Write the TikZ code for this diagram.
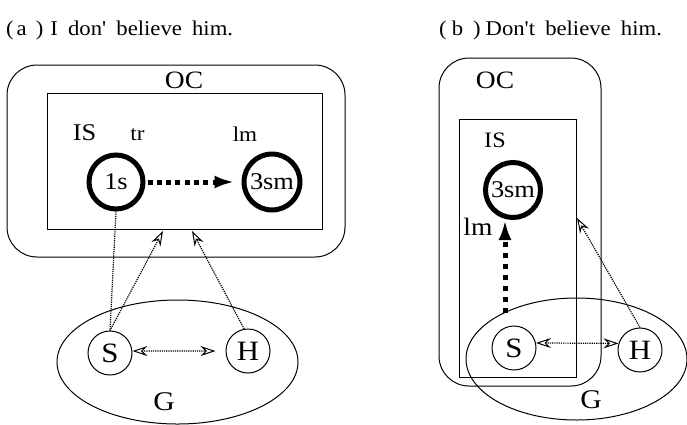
\documentclass[tikz,border=0pt]{standalone}
\usepackage{fontspec}
\newfontfamily\tf[FakeStretch=1.1]{Liberation Serif}
\newfontfamily\tfw[FakeStretch=1.08,WordSpace=1.8]{Liberation Serif}
\usetikzlibrary{arrows.meta,shapes.geometric,calc}
\begin{document}
\begin{tikzpicture}[x=1pt,y=-1pt,
  frame/.style={draw, line width=1pt, inner sep=0pt},
  bigc/.style={circle, draw, line width=5pt, inner sep=0pt, minimum size=55pt, font=\tf\fontsize{24}{24}\selectfont},
  smc/.style={circle, draw, line width=1pt, inner sep=0pt, minimum size=44pt, font=\tf\fontsize{28}{28}\selectfont},
  lab/.style={anchor=base, inner sep=0pt},
  ttl/.style={anchor=base west, inner sep=0pt, font=\tfw\fontsize{21}{21}\selectfont},
  dotline/.style={line width=1.2pt, dash pattern=on 1.2pt off 1pt},
  openhead/.style={-{Stealth[open,length=15pt,width=10pt,inset=5pt,line width=1pt]}},
  bothhead/.style={{Stealth[open,length=15pt,width=10pt,inset=5pt,line width=1pt]}-{Stealth[open,length=15pt,width=10pt,inset=5pt,line width=1pt]}},
  thickarrow/.style={line width=5pt, -{Latex[length=20pt,width=13pt]}}
]
\useasboundingbox (0,0) rectangle (687,424);

% ---------- titles
\node[ttl] (tta) at (6,35) {(\hspace{3pt}a\hspace{9pt})\hspace{7pt}I don' believe him.};
\node[ttl] (ttb) at (439,35) {(\hspace{5pt}b\hspace{10pt})\hspace{5pt}Don't believe him.};

% ---------- panel (a)
\node[frame, rounded corners=30pt, minimum width=338pt, minimum height=192pt] (OCa) at (176,161) {};
\node[frame, minimum width=275pt, minimum height=136pt] (ISa) at (184.5,161) {};
\node[lab, font=\tf\fontsize{25}{25}\selectfont] (ocla) at (184,88) {OC};
\node[lab, font=\tf\fontsize{24}{24}\selectfont] (isla) at (84.5,140) {IS};
\node[lab, font=\tf\fontsize{21}{21}\selectfont] (tra) at (137.5,140) {tr};
\node[lab, font=\tf\fontsize{21}{21}\selectfont] (lma) at (245,141) {lm};
\node[bigc, minimum size=54pt] (s1) at (116,182) {1s};
\node[bigc, minimum size=56pt] (sm3a) at (272,182) {3sm};
\draw[thickarrow, dash pattern=on 5pt off 4.3pt, shorten >=7pt, shorten <=2pt] (s1) -- (sm3a);

\node[draw, ellipse, line width=1pt, inner sep=0pt, minimum width=241pt, minimum height=124pt] (Ga) at (177.5,362) {};
\node[lab, font=\tf\fontsize{27}{27}\selectfont] (gla) at (164,410) {G};
\node[smc] (Sa) at (110,353) {S};
\node[smc] (Ha) at (248,351) {H};

\coordinate (ta1) at (163,231);
\coordinate (ta2) at (192,231);
\draw[dotline] (s1.south) -- (Sa.north);
\draw[dotline, openhead] (Sa.north) -- (ta1);
\draw[dotline, openhead] (Ha.100) -- (ta2);
\draw[dotline, bothhead, shorten >=10pt] (Sa.5) -- (Ha.west);

% ---------- panel (b)
\node[frame, rounded corners=30pt, minimum width=162pt, minimum height=328pt] (OCb) at (520,222) {};
\node[frame, minimum width=117pt, minimum height=258pt] (ISb) at (517.5,248) {};
\node[lab, font=\tf\fontsize{25}{25}\selectfont] (oclb) at (495,88) {OC};
\node[lab, font=\tf\fontsize{22}{22}\selectfont] (islb) at (495,147) {IS};
\node[bigc] (sm3b) at (513,190) {3sm};
\node[lab, font=\tf\fontsize{25}{25}\selectfont] (lmb) at (478,235) {lm};

\node[draw, ellipse, line width=1pt, inner sep=0pt, minimum width=221pt, minimum height=122pt] (Gb) at (576.5,359) {};
\node[lab, font=\tf\fontsize{27}{27}\selectfont] (glb) at (591,408) {G};
\node[smc] (Sb) at (514,348) {S};
\node[smc] (Hb) at (640,350) {H};

\coordinate (lmstart) at (505,313);
\draw[thickarrow, dash pattern=on 5pt off 6pt] (lmstart) -- (lmstart |- sm3b.south);
\coordinate (tb1) at (577,218);
\draw[dotline, openhead] (Hb.north) -- (tb1);
\draw[dotline, bothhead] (Sb.13) -- (Hb.163);
\end{tikzpicture}
\end{document}
